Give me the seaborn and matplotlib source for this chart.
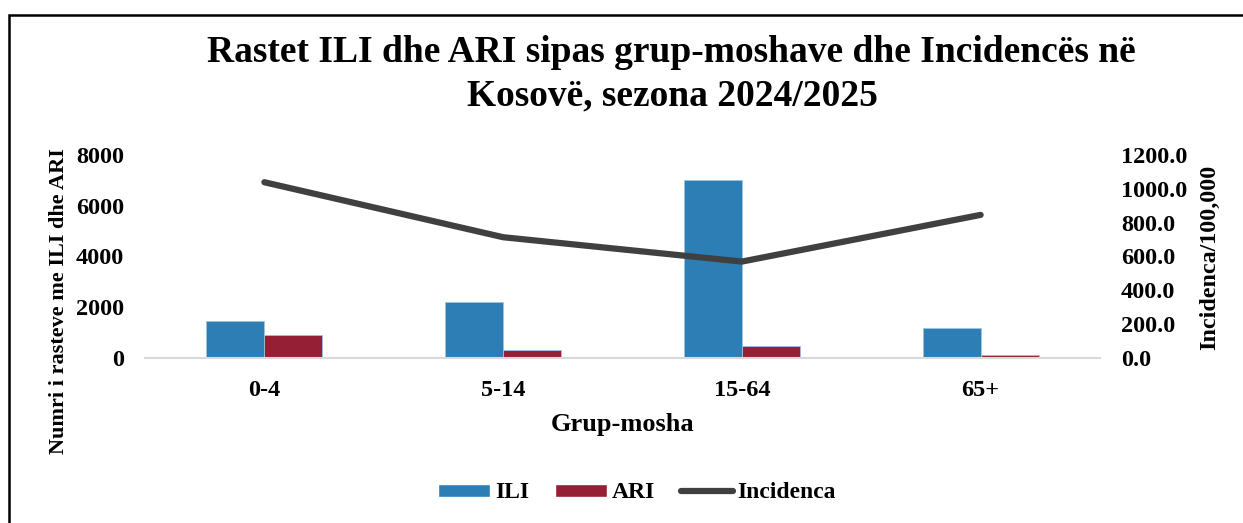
import matplotlib
matplotlib.use("Agg")
import matplotlib.pyplot as plt
import seaborn as sns
import pandas as pd
import numpy as np
from matplotlib.patches import Rectangle, Patch
from matplotlib.lines import Line2D

categories = ["0-4", "5-14", "15-64", "65+"]
ili = [1440, 2215, 7005, 1180]
ari = [890, 315, 456, 100]
incidenca = [1039, 714, 570, 846]

left_ticks = [0, 2000, 4000, 6000, 8000]
right_ticks = [0, 200, 400, 600, 800, 1000, 1200]

sns.set_theme(style="white")
plt.rcParams['font.family'] = ['Liberation Serif', 'DejaVu Serif']
plt.rcParams['font.weight'] = 'bold'
plt.rcParams['text.color'] = 'black'
plt.rcParams['xtick.color'] = 'black'
plt.rcParams['ytick.color'] = 'black'
plt.rcParams['axes.labelcolor'] = 'black'

df = pd.DataFrame({
    "Grup-mosha": categories * 2,
    "Vlera": ili + ari,
    "Seria": ["ILI"] * 4 + ["ARI"] * 4,
})

fig = plt.figure(figsize=(12.43, 5.23), dpi=100)
ax = fig.add_axes([145/1243, 1-358/523, (1100-145)/1243, (358-155)/523])

colors = {"ILI": "#2E7EB6", "ARI": "#952035"}
sns.barplot(data=df, x="Grup-mosha", y="Vlera", hue="Seria", palette=colors,
            width=0.485, dodge=True, ax=ax, legend=False,
            edgecolor="#9DC3E0", linewidth=0.6, saturation=1)
ax.set_xlim(-0.5, 3.5)
ax.set_ylim(0, 8000)
ax.set_yticks(left_ticks)
ax.set_yticklabels([str(t) for t in left_ticks], fontsize=17.5, fontweight='bold')
ax.set_xticks(range(len(categories)))
ax.set_xticklabels(categories, fontsize=17.5, fontweight='bold')
ax.tick_params(axis='y', length=0, pad=15)
ax.tick_params(axis='x', length=0, pad=16)
ax.set_xlabel("")
ax.set_ylabel("")
for s in ["top", "right", "left"]:
    ax.spines[s].set_visible(False)
ax.spines["bottom"].set_color("#D9D9D9")
ax.spines["bottom"].set_linewidth(1.5)

ax2 = ax.twinx()
sns.lineplot(x=np.arange(len(categories)), y=incidenca, ax=ax2, color="#404040",
             linewidth=4.5, solid_capstyle='round')
ax2.set_ylim(0, 1200)
ax2.set_yticks(right_ticks)
ax2.set_yticklabels([f"{t:.1f}" for t in right_ticks], fontsize=17.5, fontweight='bold')
ax2.tick_params(axis='y', length=0, pad=15)
ax2.set_ylabel("")
for s in ["top", "right", "left", "bottom"]:
    ax2.spines[s].set_visible(False)
ax2.set_xlim(-0.5, 3.5)

fig.text(671/1243, 1-62/523, "Rastet ILI dhe ARI sipas grup-moshave dhe Incidencës në",
         ha='center', va='baseline', fontsize=27, fontweight='bold')
fig.text(672/1243, 1-105/523, "Kosovë, sezona 2024/2025",
         ha='center', va='baseline', fontsize=27, fontweight='bold')

fig.text(59/1243, 1-301/523, "Numri i rasteve me ILI dhe ARI", rotation=90,
         ha='center', va='center', fontsize=16, fontweight='bold')
fig.text(1210/1243, 1-257/523, "Incidenca/100,000", rotation=90,
         ha='center', va='center', fontsize=17.3, fontweight='bold')
fig.text(623/1243, 1-425/523, "Grup-mosha", ha='center', va='center',
         fontsize=19, fontweight='bold')

handles = [Patch(facecolor=colors["ILI"]), Patch(facecolor=colors["ARI"]),
           Line2D([0], [0], color="#404040", linewidth=4.5, solid_capstyle='round')]
leg = fig.legend(handles, ["ILI", "ARI", "Incidenca"], loc='center',
                 bbox_to_anchor=(637/1243, 1-493/523), ncol=3, frameon=False,
                 prop={'size': 17, 'weight': 'bold'}, handlelength=2.2,
                 handleheight=0.47, handletextpad=0.2, columnspacing=1.1)

fig.patches.append(Rectangle((9/1243, -0.1), 1.2, (1-15/523) + 0.1,
                             transform=fig.transFigure, fill=False,
                             edgecolor='black', linewidth=1.8, zorder=10))

fig.savefig("out.png", dpi=100)
